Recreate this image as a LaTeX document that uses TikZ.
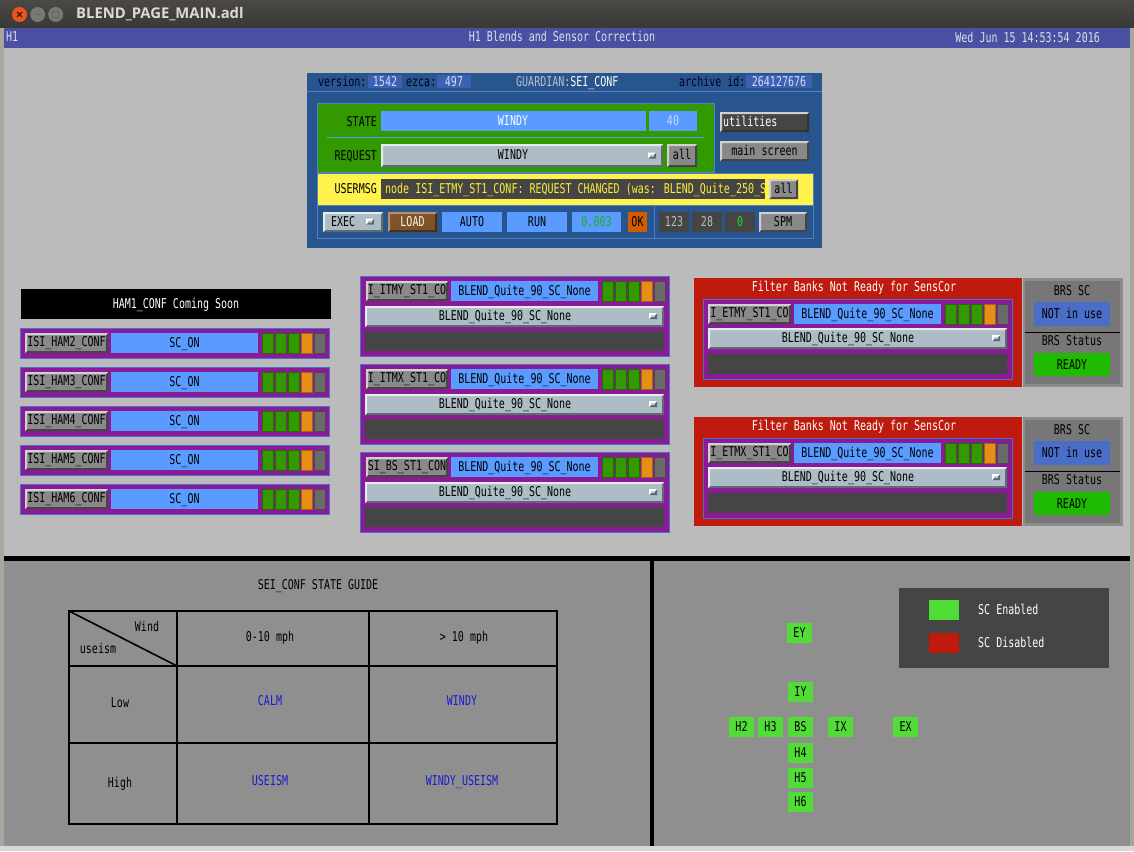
\documentclass[tikz,border=0pt]{standalone}
\usepackage{fontspec}
\newfontfamily\mono[FakeStretch=0.74]{DejaVu Sans Mono}
\newfontfamily\ttlfont{Open Sans}
\usetikzlibrary{calc}
\definecolor{winframe}{HTML}{AAA69F}
\definecolor{tbtop}{HTML}{4A4945}
\definecolor{tbbot}{HTML}{393834}
\definecolor{winred}{HTML}{E9541F}
\definecolor{wingray}{HTML}{7A7873}
\definecolor{ttltxt}{HTML}{DFDBD2}
\definecolor{bluebar}{HTML}{4A50A2}
\definecolor{bodygray}{HTML}{BBBBBB}
\definecolor{lowgray}{HTML}{8F8F8F}
\definecolor{botedge}{HTML}{D8D8D8}
\definecolor{gblue}{HTML}{29558E}
\definecolor{gline}{HTML}{4C80CC}
\definecolor{hval}{HTML}{3B62B0}
\definecolor{gtxt}{HTML}{B8C0D0}
\definecolor{ggreen}{HTML}{339900}
\definecolor{sepline}{HTML}{55A5E8}
\definecolor{mblue}{HTML}{5A9BFF}
\definecolor{mgray}{HTML}{ADBCC5}
\definecolor{mlight}{HTML}{E4ECF0}
\definecolor{mdark}{HTML}{5E6B72}
\definecolor{bgray}{HTML}{898989}
\definecolor{blight}{HTML}{D0D0D0}
\definecolor{bdark}{HTML}{454545}
\definecolor{dgray}{HTML}{454545}
\definecolor{gyellow}{HTML}{FFF24A}
\definecolor{msgtxt}{HTML}{FFEE33}
\definecolor{lbrown}{HTML}{7D5428}
\definecolor{brlight}{HTML}{B89070}
\definecolor{brdark}{HTML}{4A3018}
\definecolor{okorange}{HTML}{D25C00}
\definecolor{numgreen}{HTML}{22DD22}
\definecolor{numgray}{HTML}{BBBBBB}
\definecolor{purp}{HTML}{8B1A96}
\definecolor{purpedge}{HTML}{4A6FCF}
\definecolor{lgreen}{HTML}{339900}
\definecolor{lorange}{HTML}{E68F17}
\definecolor{lgray}{HTML}{6A6A6A}
\definecolor{fbred}{HTML}{BE1A0D}
\definecolor{brsout}{HTML}{8C8C8C}
\definecolor{brsin}{HTML}{777777}
\definecolor{notblue}{HTML}{4A6DC8}
\definecolor{readygreen}{HTML}{1FBB00}
\definecolor{leggreen}{HTML}{52DC38}
\definecolor{guideblue}{HTML}{1A1ACC}
\definecolor{bartxt}{HTML}{E0E0E8}

% bevelled rectangle: x1 y1 x2 y2 fill light dark
\newcommand\Bev[7]{%
  \fill[#5] ({#1},{#2}) rectangle ({#3},{#4});
  \fill[#7] ({#3},{#2}) -- ({#3},{#4}) -- ({#1},{#4}) -- ({#1+2},{#4-2}) -- ({#3-2},{#4-2}) -- ({#3-2},{#2+2}) -- cycle;
  \fill[#6] ({#1},{#2}) -- ({#3},{#2}) -- ({#3-2},{#2+2}) -- ({#1+2},{#2+2}) -- ({#1+2},{#4-2}) -- ({#1},{#4}) -- cycle;
}
\newcommand\Lights[2]{%
  \foreach \k/\c in {0/lgreen,1/lgreen,2/lgreen,3/lorange,4/lgray}{%
    \fill[\c, draw=\c!70!black, line width=0.6] ({#1+13*\k},{#2}) rectangle ({#1+13*\k+11},{#2+20});
  }%
}
\newcommand\MenuIcon[2]{%
  \Bev{#1-4}{#2-3}{#1+4}{#2+3}{mgray!80!white}{white}{mdark}%
}

\begin{document}
\begin{tikzpicture}[x=1pt,y=-1pt,
  tx/.style={inner sep=0pt, font=\mono\fontsize{13.5}{15}\selectfont, text height=9.8pt, text depth=0pt},
  frameline/.style={draw=gline, line width=1}]
\useasboundingbox (0,0) rectangle (1134,851);

% ---------- window ----------
\fill[winframe] (0,0) rectangle (1134,851);
\shade[top color=tbtop, bottom color=tbbot] (0,0) rectangle (1134,28);
\fill[winred] (19.5,14.5) circle (7.5);
\draw[black!70!winred, line width=1.2] (17,12) -- (22,17) (22,12) -- (17,17);
\fill[wingray] (37.7,14.5) circle (7.5);
\draw[black!60, line width=1.4] (34.5,14.5) -- (41,14.5);
\fill[wingray] (55.7,14.5) circle (7.5);
\draw[black!60, line width=1] (52.7,11.5) rectangle (58.7,17.5);
\node[inner sep=0, anchor=west, text=ttltxt, font=\ttlfont\bfseries\fontsize{14.8}{16}\selectfont] (wtitle) at (76,14) {BLEND\_PAGE\_MAIN.adl};

\fill[bluebar] (4,28) rectangle (1130,48);
\node[tx, anchor=west, text=bartxt] (barh1) at (6,37) {H1};
\node[tx, text=bartxt] (bartitle) at (562,37) {H1 Blends and Sensor Correction};
\node[tx, anchor=east, text=bartxt] (bardate) at (1100,38) {Wed Jun 15 14:53:54 2016};

\fill[bodygray] (4,48) rectangle (1130,556);
\fill[black] (4,556) rectangle (1130,561);
\fill[lowgray] (4,561) rectangle (1130,846);
\fill[black] (650,561) rectangle (654,846);
\fill[botedge] (0,846) rectangle (1134,851);

% ---------- guardian box ----------
\fill[gblue] (307,73) rectangle (822,248);
\draw[gline, line width=1] (307,91) -- (822,91);
\node[tx, anchor=west, text=black!85!blue] (gver) at (318,82) {version:};
\fill[hval] (368,75) rectangle (402,88);
\node[tx, text=white!85!blue] (gverv) at (385,82) {1542};
\node[tx, anchor=west, text=black!85!blue] (gezca) at (406,82) {ezca:};
\fill[hval] (437,75) rectangle (471,88);
\node[tx, text=white!85!blue] (gezcav) at (454,82) {497};
\node[tx, anchor=west] (gname) at (516,82) {\textcolor{gtxt}{GUARDIAN:}\textcolor{white}{SEI\_CONF}};
\node[tx, anchor=west, text=black!85!blue] (garch) at (679,82) {archive id:};
\fill[hval] (746,75) rectangle (812,88);
\node[tx, text=white!85!blue] (garchv) at (779,82) {264127676};

\fill[ggreen, frameline] (317,103) rectangle (714,172);
\node[tx, anchor=east] (lstate) at (377,122) {STATE};
\fill[mblue] (381,111) rectangle (646,131);
\node[tx, text=white] (vstate) at (513,121) {WINDY};
\fill[mblue] (649,111) rectangle (697,131);
\node[tx, text=white!65!mblue] (vindex) at (673,121) {40};
\draw[sepline, line width=1] (327,137) -- (704,137);
\node[tx, anchor=east] (lreq) at (377,156) {REQUEST};
\Bev{381}{144}{663}{167}{mgray}{mlight}{mdark}
\node[tx] (vreq) at (513,155) {WINDY};
\MenuIcon{652}{155.5}
\Bev{667}{144}{697}{167}{bgray}{blight}{bdark}
\node[tx] (ball1) at (682,155) {all};

\Bev{720}{112}{809}{132}{dgray}{blight}{black!80}
\node[tx, anchor=west, text=white] (butil) at (723,121.5) {utilities};
\Bev{720}{141}{809}{161}{bgray}{blight}{bdark}
\node[tx] (bmain) at (764.5,150.5) {main screen};

\fill[gyellow, frameline] (317,173) rectangle (813,205);
\node[tx, anchor=east] (lmsg) at (377,189) {USERMSG};
\fill[dgray] (381,179) rectangle (765,199);
\node[tx, anchor=west, text=msgtxt] (vmsg) at (385,188.5) {node ISI\_ETMY\_ST1\_CONF: REQUEST CHANGED (was: BLEND\_Quite\_250\_S};
\Bev{769}{179}{798}{199}{bgray}{blight}{bdark}
\node[tx] (ball2) at (783.5,188.5) {all};

\draw[frameline] (317,205) rectangle (813,238);
\draw[frameline] (654,205) -- (654,238);
\Bev{323}{212}{383}{232}{mgray}{mlight}{mdark}
\node[tx, anchor=west] (bexec) at (331,221.5) {EXEC};
\MenuIcon{370}{221.5}
\Bev{388}{212}{437}{232}{lbrown}{brlight}{brdark}
\node[tx, text=white!92!brown] (bload) at (412.5,221.5) {LOAD};
\fill[mblue] (442,212) rectangle (502,232);
\node[tx] (vauto) at (472,222) {AUTO};
\fill[mblue] (507,212) rectangle (567,232);
\node[tx] (vrun) at (537,222) {RUN};
\fill[mblue] (572,212) rectangle (621,232);
\node[tx, text=numgreen!80!black] (vrate) at (596.5,222) {0.003};
\fill[okorange] (628,212) rectangle (647,232);
\node[tx] (vok) at (637.5,222) {OK};
\fill[dgray] (659,212) rectangle (689,232);
\node[tx, text=numgray] (v123) at (674,222) {123};
\fill[dgray] (692,212) rectangle (722,232);
\node[tx, text=numgray] (v28) at (707,222) {28};
\fill[dgray] (725,212) rectangle (755,232);
\node[tx, text=numgreen] (v0) at (740,222) {0};
\Bev{759}{212}{807}{232}{bgray}{blight}{bdark}
\node[tx] (bspm) at (783,221.5) {SPM};

% ---------- HAM panel ----------
\fill[black] (21,289) rectangle (331,319);
\node[tx, text=white] (ham1) at (176,304) {HAM1\_CONF Coming Soon};
\foreach \i/\y in {2/328,3/367,4/406,5/445,6/484}{
  \fill[purp, draw=purpedge, line width=1] (20,\y) rectangle (329,\y+30);
  \Bev{25}{\y+5}{108}{\y+25}{bgray}{blight}{bdark}
  \node[tx] (hambtn\i) at (66.5,\y+14) {ISI\_HAM\i\_CONF};
  \fill[mblue] (111,\y+5) rectangle (258,\y+25);
  \node[tx] (hamval\i) at (184.5,\y+14.5) {SC\_ON};
  \Lights{262}{\y+5}
}

% ---------- middle panel ----------
\foreach \n/\nm/\y in {a/I\_ITMY\_ST1\_CO/276, b/I\_ITMX\_ST1\_CO/364, c/SI\_BS\_ST1\_CON/452}{
  \fill[purp, draw=purpedge, line width=1] (360,\y) rectangle (669,\y+80);
  \Bev{366}{\y+5}{448}{\y+25}{bgray}{blight}{bdark}
  \node[tx] (midbtn\n) at (407,\y+14) {\nm};
  \fill[mblue] (451,\y+5) rectangle (598,\y+25);
  \node[tx] (midval\n) at (524.5,\y+14.5) {BLEND\_Quite\_90\_SC\_None};
  \Lights{602}{\y+5}
  \Bev{365}{\y+30}{664}{\y+51}{mgray}{mlight}{mdark}
  \node[tx] (midmenu\n) at (505,\y+39.5) {BLEND\_Quite\_90\_SC\_None};
  \MenuIcon{653}{\y+40}
  \fill[dgray] (365,\y+55) rectangle (664,\y+75);
}

% ---------- right panel ----------
\foreach \n/\nm/\y in {a/I\_ETMY\_ST1\_CO/278, b/I\_ETMX\_ST1\_CO/417}{
  \fill[fbred] (694,\y) rectangle (1022,\y+109);
  \node[tx, text=white] (fbtitle\n) at (854,\y+9) {Filter Banks Not Ready for SensCor};
  \fill[purp, draw=purpedge, line width=1] (703,\y+21) rectangle (1012,\y+101);
  \Bev{708}{\y+26}{791}{\y+46}{bgray}{blight}{bdark}
  \node[tx] (rbtn\n) at (749.5,\y+35) {\nm};
  \fill[mblue] (794,\y+26) rectangle (941,\y+46);
  \node[tx] (rval\n) at (867.5,\y+35.5) {BLEND\_Quite\_90\_SC\_None};
  \Lights{945}{\y+26}
  \Bev{708}{\y+50}{1007}{\y+71}{mgray}{mlight}{mdark}
  \node[tx] (rmenu\n) at (848,\y+59.5) {BLEND\_Quite\_90\_SC\_None};
  \MenuIcon{996}{\y+60}
  \fill[dgray] (708,\y+76) rectangle (1007,\y+96);
  % BRS
  \fill[brsout] (1023,\y) rectangle (1123,\y+109);
  \fill[brsin] (1025,\y+3) rectangle (1120,\y+106);
  \node[tx] (brssc\n) at (1072,\y+13) {BRS SC};
  \fill[notblue] (1034,\y+24) rectangle (1110,\y+48);
  \node[tx] (brsuse\n) at (1072,\y+36) {NOT in use};
  \draw[black, line width=1] (1025,\y+54) -- (1120,\y+54);
  \node[tx] (brsst\n) at (1072,\y+63) {BRS Status};
  \fill[readygreen] (1034,\y+75) rectangle (1110,\y+98);
  \node[tx] (brsready\n) at (1072,\y+86.5) {READY};
}

% ---------- state guide ----------
\node[tx] (guide) at (318,585) {SEI\_CONF STATE GUIDE};
\draw[black, line width=2] (69,611) rectangle (557,824);
\draw[black, line width=2] (177,611) -- (177,824) (369,611) -- (369,824)
  (69,666) -- (557,666) (69,743) -- (557,743);
\draw[black, line width=1.6] (69,611) -- (177,666);
\node[tx] (gwind) at (147,627) {Wind};
\node[tx] (guseism) at (98,649) {useism};
\node[tx] (g010) at (270,637) {0-10 mph};
\node[tx] (g10) at (464,637) {> 10 mph};
\node[tx] (glow) at (120,703) {Low};
\node[tx] (ghigh) at (120,783) {High};
\node[tx, text=guideblue] (gcalm) at (270,701) {CALM};
\node[tx, text=guideblue] (gwindy) at (462,701) {WINDY};
\node[tx, text=guideblue] (gus) at (270,781) {USEISM};
\node[tx, text=guideblue] (gwus) at (462,781) {WINDY\_USEISM};

% ---------- map ----------
\fill[dgray] (899,588) rectangle (1109,668);
\fill[leggreen] (929,600) rectangle (959,620);
\fill[fbred] (929,633) rectangle (959,653);
\node[tx, anchor=west, text=white] (legen) at (978,609.5) {SC Enabled};
\node[tx, anchor=west, text=white] (legdis) at (978,643) {SC Disabled};
\foreach \lab/\x/\y in {EY/787/623, IY/788/682, H2/729/717, H3/758/717, BS/788/717, IX/828/717, EX/893/717, H4/788/743, H5/788/768, H6/788/792}{
  \fill[leggreen] (\x,\y) rectangle (\x+25,\y+20);
  \node[tx] (map\lab) at (\x+12.5,\y+10) {\lab};
}
\end{tikzpicture}
\end{document}
